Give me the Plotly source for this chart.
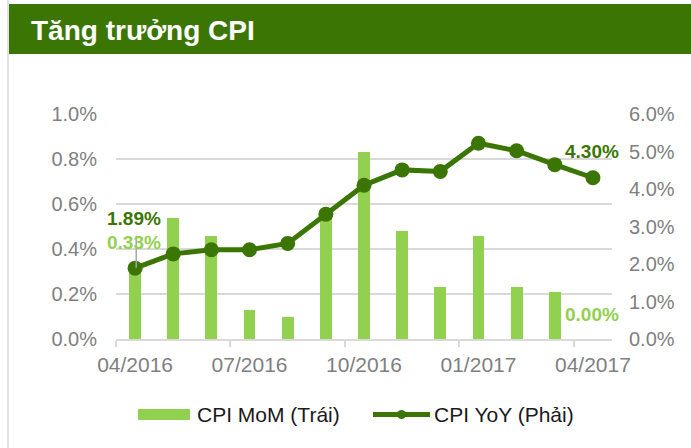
import plotly.graph_objects as go

months = ["04/2016", "05/2016", "06/2016", "07/2016", "08/2016", "09/2016", "10/2016",
          "11/2016", "12/2016", "01/2017", "02/2017", "03/2017", "04/2017"]
cpi_mom = [0.33, 0.54, 0.46, 0.13, 0.10, 0.54, 0.83, 0.48, 0.23, 0.46, 0.23, 0.21, 0.00]
cpi_yoy = [1.89, 2.27, 2.38, 2.38, 2.55, 3.33, 4.10, 4.51, 4.47, 5.22, 5.02, 4.65, 4.30]
tick_labels = ["04/2016", "07/2016", "10/2016", "01/2017", "04/2017"]
title_text = "Tăng trưởng CPI"
legend_names = ["CPI MoM (Trái)", "CPI YoY (Phải)"]

W, H = 691, 448
L, R, T, B = 116, 79, 114, 109
PW, PH = W - L - R, H - T - B
FONT = "Liberation Sans, Arial, sans-serif"
LIGHT = "#92D050"
DARK = "#3B7604"
GRID = "#D9D9D9"
GRAYTXT = "#7F7F7F"

def px_x(p):
    return (p - L) / PW

def px_y(p):
    return (H - B - p) / PH

x_idx = list(range(len(months)))

fig = go.Figure()
fig.add_trace(go.Bar(x=x_idx, y=cpi_mom, width=0.31, marker=dict(color=LIGHT, line=dict(width=0)),
                     name=legend_names[0], yaxis="y", showlegend=False))
fig.add_trace(go.Scatter(x=x_idx, y=cpi_yoy, mode="lines+markers", yaxis="y2",
                         line=dict(color=DARK, width=5), marker=dict(color=DARK, size=15),
                         name=legend_names[1], showlegend=False))

tick_pos = [months.index(t) for t in tick_labels]
minor_pos = [p - 0.5 for p in tick_pos]

shapes = [
    dict(type="rect", xref="paper", yref="paper", x0=px_x(7), x1=px_x(691), y0=px_y(54), y1=px_y(4),
         fillcolor=DARK, line=dict(width=0), layer="below"),
    dict(type="line", xref="paper", yref="paper", x0=px_x(8), x1=px_x(8), y0=px_y(448), y1=px_y(0),
         line=dict(color="#E3E3E3", width=2)),
    # leader line for first bar label
    dict(type="line", xref="x", yref="y", ysizemode="pixel", yanchor=cpi_mom[0],
         x0=0.03, x1=0.03, y0=-3, y1=29, line=dict(color="#A6A6A6", width=1.5)),
    # custom legend
    dict(type="rect", xref="paper", yref="paper", x0=px_x(138), x1=px_x(190), y0=px_y(420), y1=px_y(409),
         fillcolor=LIGHT, line=dict(width=0)),
    dict(type="line", xref="paper", yref="paper", x0=px_x(373), x1=px_x(430), y0=px_y(414.5), y1=px_y(414.5),
         line=dict(color=DARK, width=5)),
    dict(type="circle", xref="paper", yref="paper", x0=px_x(397), x1=px_x(406), y0=px_y(419), y1=px_y(410),
         fillcolor=DARK, line=dict(width=0)),
]

annotations = [
    dict(xref="x", yref="y2", x=0, y=cpi_yoy[0], text=f"<b>{cpi_yoy[0]:.2f}%</b>", showarrow=False,
         yshift=50, xshift=-1, font=dict(family=FONT, size=19, color=DARK)),
    dict(xref="x", yref="y", x=0, y=cpi_mom[0], text=f"<b>{cpi_mom[0]:.2f}%</b>", showarrow=False,
         yshift=22, xshift=-1, font=dict(family=FONT, size=19, color=LIGHT)),
    dict(xref="x", yref="y2", x=12, y=cpi_yoy[12], text=f"<b>{cpi_yoy[12]:.2f}%</b>", showarrow=False,
         yshift=26, xshift=-1, font=dict(family=FONT, size=19, color=DARK)),
    dict(xref="x", yref="y", x=12, y=cpi_mom[12], text=f"<b>{cpi_mom[12]:.2f}%</b>", showarrow=False,
         yshift=25, xshift=-1, font=dict(family=FONT, size=19, color=LIGHT)),
    dict(xref="paper", yref="paper", x=px_x(195), y=px_y(414.5), xanchor="left", yanchor="middle",
         text=legend_names[0], showarrow=False, font=dict(family=FONT, size=21, color="#1A1A1A")),
    dict(xref="paper", yref="paper", x=px_x(432), y=px_y(414.5), xanchor="left", yanchor="middle",
         text=legend_names[1], showarrow=False, font=dict(family=FONT, size=21, color="#1A1A1A")),
]

fig.update_layout(
    width=W, height=H, margin=dict(l=L, r=R, t=T, b=B),
    paper_bgcolor="white", plot_bgcolor="white",
    showlegend=False, bargap=0,
    title=dict(text=f"<b>{title_text}</b>", x=31 / W, y=1 - 30 / H, xref="container", yref="container",
               xanchor="left", yanchor="middle", font=dict(family=FONT, size=28, color="white")),
    xaxis=dict(range=[-0.5, 12.5], tickmode="array", tickvals=tick_pos, ticktext=tick_labels,
               ticks="", showgrid=False, zeroline=False, showline=True, linecolor=GRID, linewidth=1.5,
               tickfont=dict(family=FONT, size=21, color=GRAYTXT), ticklabelstandoff=6,
               minor=dict(tickmode="array", tickvals=minor_pos, ticks="outside", ticklen=6,
                          tickcolor=GRID, tickwidth=1.5, showgrid=False)),
    yaxis=dict(range=[0, 1.0], dtick=0.2, tickformat=".1f", ticksuffix="%", showgrid=True,
               gridcolor=GRID, gridwidth=1.5, zeroline=False, showline=False, ticks="",
               tickfont=dict(family=FONT, size=20, color=GRAYTXT), ticklabelstandoff=18),
    yaxis2=dict(range=[0, 6.0], dtick=1, tickformat=".1f", ticksuffix="%", overlaying="y", side="right",
                showgrid=False, zeroline=False, showline=False, ticks="",
                tickfont=dict(family=FONT, size=20, color=GRAYTXT), ticklabelstandoff=16),
    shapes=shapes, annotations=annotations,
)

fig.write_html("out.html")
